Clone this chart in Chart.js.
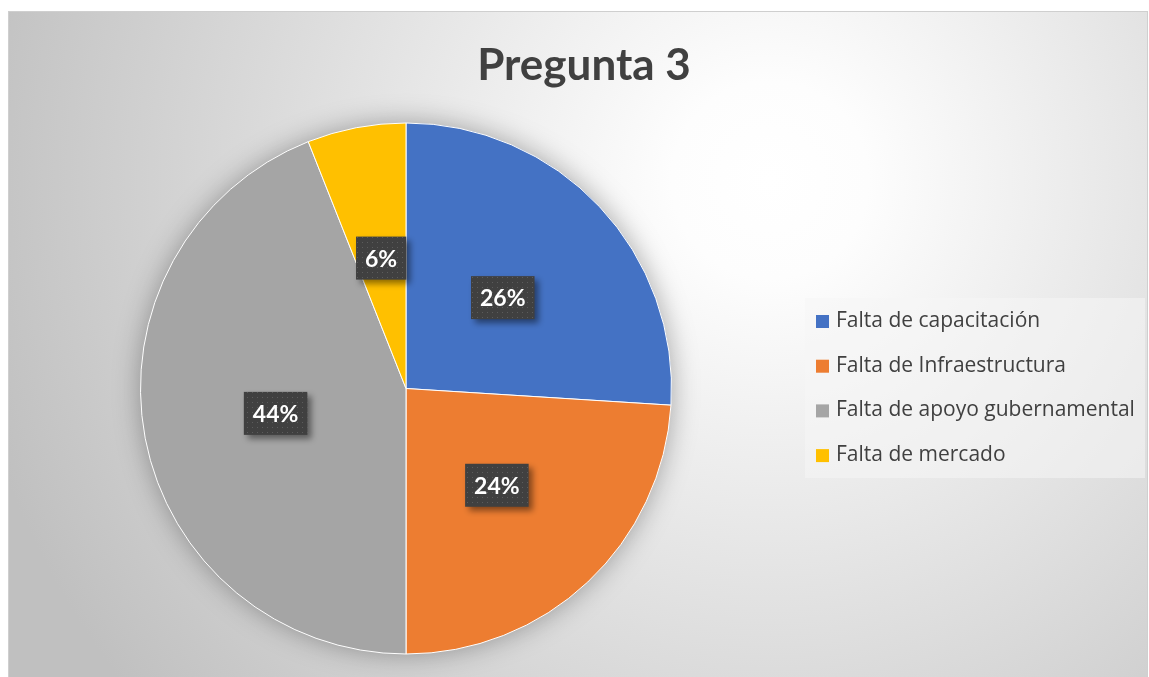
<!DOCTYPE html>
<html>
<head>
<meta charset="utf-8">
<script src="https://cdn.jsdelivr.net/npm/chart.js@4.4.1/dist/chart.umd.min.js"></script>
<style>
  html, body { margin: 0; padding: 0; background: #fff; }
  #wrap { position: relative; width: 1149px; height: 677px; }
</style>
</head>
<body>
<div id="wrap"><canvas id="pieChart" width="1149" height="677"></canvas></div>
<script>
// chart data
const chartTitle = "Pregunta 3";
const categories = ["Falta de capacitación", "Falta de Infraestructura", "Falta de apoyo gubernamental", "Falta de mercado"];
const percentValues = [26, 24, 44, 6];
const sliceColors = ["#4472C4", "#ED7D31", "#A5A5A5", "#FFC000"];

const textColor = "#404040";
const fontFamily = "Lato, 'Open Sans', sans-serif";
const legendFont = "'Open Sans', Lato, sans-serif";

// background frame with radial gradient, title and legend
const frameBackground = {
  id: "frameBackground",
  beforeDraw(chart) {
    const ctx = chart.ctx;
    ctx.save();
    const g = ctx.createRadialGradient(770, 180, 0, 770, 180, 820);
    g.addColorStop(0, "#ffffff");
    g.addColorStop(0.12, "#fdfdfd");
    g.addColorStop(1, "#c0c0c0");
    ctx.fillStyle = g;
    ctx.fillRect(8, 11, 1140, 670);
    ctx.strokeStyle = "#cfcfcf";
    ctx.lineWidth = 1;
    ctx.strokeRect(8.5, 11.5, 1139, 670);

    // title
    ctx.fillStyle = textColor;
    ctx.font = "bold 44px " + fontFamily;
    ctx.textAlign = "center";
    ctx.textBaseline = "alphabetic";
    ctx.fillText(chartTitle, 584, 80);

    // legend
    ctx.fillStyle = "rgba(245,245,245,0.55)";
    ctx.fillRect(805, 298, 340, 180);
    ctx.font = "21px " + legendFont;
    ctx.textAlign = "left";
    ctx.textBaseline = "middle";
    categories.forEach((label, i) => {
      const y = 321 + i * 44.7;
      ctx.fillStyle = sliceColors[i];
      ctx.fillRect(816, y - 6, 13, 13);
      ctx.fillStyle = textColor;
      ctx.fillText(label, 836, y);
    });
    ctx.restore();
  }
};

// soft glow behind the pie
const pieShadow = {
  id: "pieShadow",
  beforeDatasetsDraw(chart) {
    const arc = chart.getDatasetMeta(0).data[0];
    if (!arc) return;
    const ctx = chart.ctx;
    ctx.save();
    ctx.shadowColor = "rgba(0,0,0,0.35)";
    ctx.shadowBlur = 28;
    ctx.fillStyle = "#a0a0a0";
    ctx.beginPath();
    ctx.arc(arc.x, arc.y, arc.outerRadius - 1, 0, Math.PI * 2);
    ctx.fill();
    ctx.restore();
  }
};

// dark dotted labels with percent text
function dotPattern(ctx) {
  const c = document.createElement("canvas");
  c.width = 5; c.height = 5;
  const p = c.getContext("2d");
  p.fillStyle = "#404040";
  p.fillRect(0, 0, 5, 5);
  p.fillStyle = "#5c5c5c";
  p.fillRect(2, 2, 1, 1);
  return ctx.createPattern(c, "repeat");
}

const percentLabels = {
  id: "percentLabels",
  afterDatasetsDraw(chart) {
    const ctx = chart.ctx;
    const meta = chart.getDatasetMeta(0);
    const pattern = dotPattern(ctx);
    ctx.save();
    ctx.font = "bold 23px " + fontFamily;
    meta.data.forEach((arc, i) => {
      const pos = arc.getCenterPoint();
      const text = percentValues[i] + "%";
      const w = ctx.measureText(text).width + 18;
      const h = 43;
      const x = pos.x - w / 2, y = pos.y - h / 2;
      ctx.save();
      ctx.shadowColor = "rgba(0,0,0,0.45)";
      ctx.shadowBlur = 6;
      ctx.shadowOffsetX = 4;
      ctx.shadowOffsetY = 4;
      ctx.fillStyle = pattern;
      ctx.fillRect(x, y, w, h);
      ctx.restore();
      ctx.fillStyle = "#ffffff";
      ctx.textAlign = "center";
      ctx.textBaseline = "middle";
      ctx.fillText(text, pos.x, pos.y + 1);
    });
    ctx.restore();
  }
};

new Chart(document.getElementById("pieChart"), {
  type: "pie",
  data: {
    labels: categories,
    datasets: [{
      data: percentValues,
      backgroundColor: sliceColors,
      borderColor: "#ffffff",
      borderWidth: 1
    }]
  },
  options: {
    responsive: false,
    animation: false,
    layout: { padding: { top: 122.5, bottom: 22.5, left: 140, right: 477 } },
    plugins: {
      legend: { display: false },
      title: { display: false },
      tooltip: { enabled: false }
    }
  },
  plugins: [frameBackground, pieShadow, percentLabels]
});
</script>
</body>
</html>
